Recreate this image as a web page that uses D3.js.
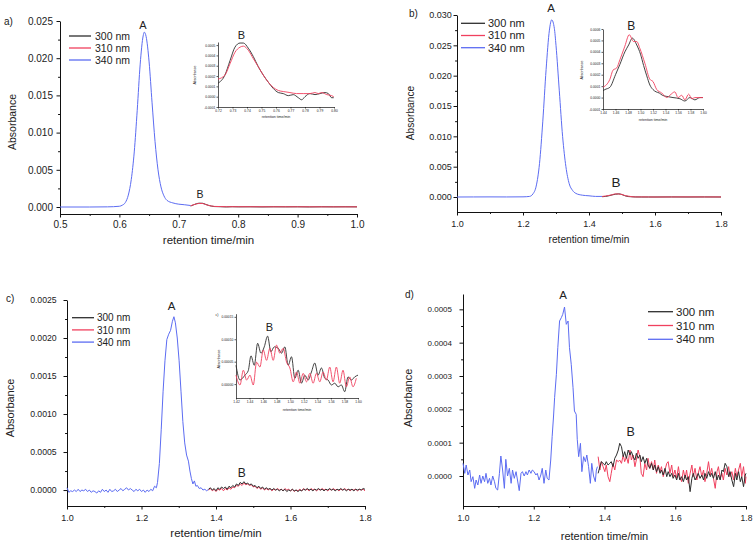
<!DOCTYPE html>
<html><head><meta charset="utf-8">
<script src="https://cdn.jsdelivr.net/npm/d3@7"></script>
<style>body{margin:0;background:#fff}svg{display:block}</style>
</head><body>
<svg id="chart" width="756" height="542"></svg>
<script>
// ---------- legend / series ----------
const seriesNames = ["300 nm", "310 nm", "340 nm"];
const seriesColors = ["#2e2e2e", "#f0405e", "#5c6cf2"];

// ---------- tick values ----------
const aXTicks = [0.5, 0.6, 0.7, 0.8, 0.9, 1.0];
const aXMinor = [0.55, 0.65, 0.75, 0.85, 0.95];
const aYTicks = [0.000, 0.005, 0.010, 0.015, 0.020, 0.025];
const aYMinor = [0.0025, 0.0075, 0.0125, 0.0175, 0.0225];
const bXTicks = [1.0, 1.2, 1.4, 1.6, 1.8];
const bXMinor = [1.1, 1.3, 1.5, 1.7];
const bYTicks = [0.000, 0.005, 0.010, 0.015, 0.020, 0.025, 0.030];
const bYMinor = [0.0025, 0.0075, 0.0125, 0.0175, 0.0225, 0.0275];
const cYTicks = [0.0000, 0.0005, 0.0010, 0.0015, 0.0020, 0.0025];
const cYMinor = [0.00025, 0.00075, 0.00125, 0.00175, 0.00225];
const dYTicks = [0.0000, 0.0001, 0.0002, 0.0003, 0.0004, 0.0005];
const dYMinor = [0.00005, 0.00015, 0.00025, 0.00035, 0.00045];
const aInsetXTicks = [0.72, 0.73, 0.74, 0.75, 0.76, 0.77, 0.78, 0.79, 0.80];
const aInsetYTicks = [-0.0001, 0.0000, 0.0001, 0.0002, 0.0003, 0.0004, 0.0005];
const bInsetXTicks = [1.44, 1.46, 1.48, 1.50, 1.52, 1.54, 1.56, 1.58, 1.60];
const bInsetYTicks = [-0.0001, 0.0000, 0.0001, 0.0002, 0.0003, 0.0004, 0.0005, 0.0006];
const cInsetXTicks = [1.42, 1.44, 1.46, 1.48, 1.50, 1.52, 1.54, 1.56, 1.58, 1.60];
const cInsetYTicks = [0.00000, 0.00005, 0.00010, 0.00015];

// ---------- panel a data ----------
const aBlue = [[0.50,0.00000],[0.55,0.00000],[0.58,0.00002],[0.600,0.00010],[0.605,0.00025],[0.610,0.00060],[0.615,0.0016],[0.620,0.0037],[0.625,0.0074],[0.630,0.0130],[0.635,0.0192],[0.640,0.0230],[0.642,0.0235],[0.645,0.0229],[0.650,0.0195],[0.655,0.0140],[0.660,0.0088],[0.665,0.0050],[0.670,0.0027],[0.675,0.0015],[0.680,0.0009],[0.690,0.00055],[0.700,0.00038],[0.710,0.00030],[0.720,0.00020]];
const aBlack = [[0.720,0.00013],[0.725,0.00030],[0.730,0.00045],[0.735,0.00051],[0.740,0.00050],[0.745,0.00036],[0.750,0.00022],[0.755,0.00012],[0.760,0.00006],[0.770,0.00004],[0.780,0.00001],[0.790,0.00004],[0.800,0.00002],[0.820,0.00003],[0.840,0.00001],[0.860,0.00003],[0.880,0.00002],[0.900,0.00003],[0.920,0.00001],[0.940,0.00003],[0.960,0.00002],[0.980,0.00003],[1.000,0.00002]];
const aRed = [[0.720,0.00017],[0.725,0.00030],[0.730,0.00042],[0.735,0.00048],[0.740,0.00047],[0.745,0.00034],[0.750,0.00022],[0.755,0.00013],[0.760,0.00008],[0.770,0.00006],[0.780,0.00004],[0.800,0.00004],[0.850,0.00003],[0.900,0.00003],[0.950,0.00002],[1.000,0.00002]];
const aInsetBlack = [[0.7200,0.00013],[0.7248,0.00021],[0.7283,0.00035],[0.7317,0.00048],[0.7352,0.00052],[0.7375,0.00052],[0.7409,0.00047],[0.7443,0.00039],[0.7478,0.00029],[0.7512,0.00021],[0.7547,0.00014],[0.7581,0.00008],[0.7616,0.00004],[0.7650,0.00003],[0.7685,0.00001],[0.7719,0.00002],[0.7754,-0.00001],[0.7777,-0.00003],[0.7800,0.00000],[0.7834,0.00003],[0.7869,0.00002],[0.7903,0.00003],[0.7938,0.00004],[0.7961,0.00003],[0.7984,-0.00001],[0.7998,-0.00001]];
const aInsetRed = [[0.7200,0.00017],[0.7248,0.00021],[0.7283,0.00032],[0.7317,0.00043],[0.7352,0.00048],[0.7375,0.00049],[0.7409,0.00045],[0.7443,0.00037],[0.7478,0.00029],[0.7512,0.00021],[0.7547,0.00014],[0.7581,0.00009],[0.7616,0.00006],[0.7650,0.00005],[0.7696,0.00004],[0.7742,0.00003],[0.7788,0.00003],[0.7834,0.00003],[0.7869,0.00004],[0.7892,0.00003],[0.7915,0.00004],[0.7950,0.00002],[0.7984,0.00001],[0.7998,0.00000]];

// ---------- panel b data ----------
const bBlue = [[1.00,0.00000],[1.05,0.00001],[1.10,0.00002],[1.15,0.00001],[1.20,0.00003],[1.22,0.00010],[1.23,0.00050],[1.24,0.0018],[1.25,0.0055],[1.26,0.0125],[1.27,0.0210],[1.28,0.0275],[1.287,0.0292],[1.295,0.0278],[1.30,0.0250],[1.31,0.0175],[1.32,0.0100],[1.33,0.0050],[1.34,0.0022],[1.35,0.0011],[1.36,0.0006],[1.38,0.0003],[1.40,0.0002],[1.42,0.0001],[1.44,0.0001]];
const bBlack = [[1.44,0.00005],[1.45,0.00010],[1.46,0.00020],[1.47,0.00035],[1.48,0.00046],[1.49,0.00052],[1.50,0.00040],[1.51,0.00019],[1.52,0.00007],[1.53,0.00004],[1.54,0.00001],[1.56,0.00000],[1.58,0.00000],[1.60,0.00000],[1.65,0.00001],[1.70,0.00000],[1.75,0.00001],[1.80,0.00000]];
const bRed = [[1.44,0.00009],[1.45,0.00016],[1.46,0.00026],[1.47,0.00036],[1.48,0.00052],[1.49,0.00049],[1.50,0.00042],[1.51,0.00022],[1.52,0.00014],[1.53,0.00005],[1.54,0.00001],[1.56,0.00002],[1.58,0.00001],[1.60,0.00000],[1.65,0.00001],[1.70,0.00002],[1.75,0.00001],[1.80,0.00001]];
const bInsetBlack = [[1.440,0.00006],[1.443,0.00007],[1.451,0.00009],[1.460,0.00020],[1.467,0.00029],[1.475,0.00040],[1.481,0.00046],[1.487,0.00052],[1.494,0.00046],[1.500,0.00038],[1.505,0.00028],[1.510,0.00019],[1.515,0.00011],[1.520,0.00007],[1.525,0.00005],[1.530,0.00004],[1.535,0.00002],[1.542,0.00001],[1.552,0.00000],[1.563,-0.00001],[1.571,-0.00003],[1.579,0.00000],[1.587,-0.00002],[1.595,0.00000],[1.600,0.00000]];
const bInsetRed = [[1.440,0.00009],[1.451,0.00016],[1.456,0.00024],[1.462,0.00026],[1.467,0.00033],[1.475,0.00045],[1.482,0.00055],[1.489,0.00049],[1.494,0.00049],[1.499,0.00043],[1.507,0.00030],[1.515,0.00016],[1.520,0.00014],[1.526,0.00007],[1.534,0.00004],[1.542,0.00000],[1.547,0.00002],[1.555,0.00005],[1.560,0.00000],[1.566,0.00002],[1.571,-0.00002],[1.577,0.00003],[1.582,-0.00001],[1.587,0.00000],[1.595,0.00000],[1.600,0.00000]];

// ---------- panel c data ----------
const cBlue = [[1.000,0.00003],[1.005,-0.00003],[1.010,-0.00001],[1.015,-0.00002],[1.020,0.00000],[1.025,-0.00002],[1.030,0.00001],[1.035,-0.00002],[1.040,0.00000],[1.045,-0.00001],[1.050,0.00001],[1.055,-0.00002],[1.060,0.00000],[1.065,-0.00003],[1.070,-0.00001],[1.075,-0.00002],[1.080,-0.00004],[1.085,-0.00001],[1.090,-0.00003],[1.095,0.00001],[1.100,-0.00002],[1.105,0.00000],[1.110,-0.00003],[1.115,0.00001],[1.120,-0.00002],[1.125,-0.00001],[1.130,0.00001],[1.135,-0.00002],[1.140,0.00000],[1.145,0.00002],[1.150,-0.00001],[1.155,0.00001],[1.160,0.00003],[1.165,0.00000],[1.170,0.00002],[1.175,0.00000],[1.180,-0.00002],[1.185,0.00001],[1.190,-0.00001],[1.195,0.00001],[1.200,-0.00002],[1.205,0.00000],[1.210,-0.00003],[1.215,0.00000],[1.220,-0.00002],[1.225,0.00001],[1.230,-0.00001],[1.235,0.00005],[1.240,0.00003],[1.243,0.00010],[1.248,0.00035],[1.253,0.00080],[1.258,0.00130],[1.263,0.00170],[1.268,0.00198],[1.273,0.00205],[1.278,0.00210],[1.283,0.00222],[1.287,0.00228],[1.291,0.00220],[1.296,0.00200],[1.301,0.00170],[1.306,0.00130],[1.311,0.00090],[1.316,0.00062],[1.321,0.00046],[1.326,0.00038],[1.330,0.00025],[1.334,0.00015],[1.338,0.00008],[1.342,0.00012],[1.346,0.00005],[1.350,0.00006],[1.355,0.00002],[1.360,0.00003],[1.365,0.00000],[1.370,0.00001],[1.375,-0.00001],[1.380,0.00001]];
const cTailTime = [1.380,1.385,1.390,1.395,1.400,1.405,1.410,1.415,1.420,1.425,1.430,1.435,1.440,1.445,1.450,1.455,1.460,1.465,1.470,1.475,1.480,1.485,1.490,1.495,1.500,1.505,1.510,1.515,1.520,1.525,1.530,1.535,1.540,1.545,1.550,1.555,1.560,1.565,1.570,1.575,1.580,1.585,1.590,1.595,1.600,1.605,1.610,1.615,1.620,1.625,1.630,1.635,1.640,1.645,1.650,1.655,1.660,1.665,1.670,1.675,1.680,1.685,1.690,1.695,1.700,1.705,1.710,1.715,1.720,1.725,1.730,1.735,1.740,1.745,1.750,1.755,1.760,1.765,1.770,1.775,1.780,1.785,1.790,1.795,1.800];
const cBlack = [0.00001,0.00003,0.00000,0.00002,-0.00001,0.00003,0.00001,0.00004,0.00002,0.00004,0.00001,0.00005,0.00003,0.00006,0.00004,0.00008,0.00006,0.00010,0.00008,0.00011,0.00008,0.00009,0.00007,0.00008,0.00005,0.00006,0.00003,0.00005,0.00002,0.00004,0.00001,0.00003,0.00001,0.00002,0.00000,0.00002,0.00000,0.00001,-0.00001,0.00001,-0.00001,0.00001,-0.00002,0.00000,-0.00001,0.00001,-0.00001,0.00000,-0.00002,0.00000,-0.00001,0.00001,0.00000,0.00002,0.00000,0.00001,-0.00001,0.00001,0.00000,0.00002,0.00000,0.00001,-0.00001,0.00001,0.00000,0.00002,0.00000,0.00001,-0.00001,0.00001,0.00000,0.00002,0.00000,0.00001,-0.00001,0.00001,0.00000,0.00001,-0.00001,0.00001,0.00000,0.00001,0.00000,0.00002,0.00001];
const cRed = [0.00000,0.00002,-0.00001,0.00001,-0.00002,0.00001,0.00000,0.00002,-0.00001,0.00002,0.00000,0.00003,0.00001,0.00004,0.00003,0.00006,0.00005,0.00008,0.00006,0.00009,0.00007,0.00008,0.00006,0.00007,0.00004,0.00005,0.00002,0.00004,0.00001,0.00003,0.00000,0.00002,0.00000,0.00002,-0.00001,0.00001,0.00000,0.00002,0.00000,0.00001,-0.00001,0.00002,0.00000,0.00001,-0.00001,0.00001,-0.00002,0.00000,-0.00001,0.00001,-0.00001,0.00002,0.00000,0.00001,-0.00001,0.00002,0.00000,0.00001,-0.00001,0.00001,0.00000,0.00002,0.00000,0.00001,-0.00001,0.00001,0.00000,0.00002,0.00000,0.00001,-0.00001,0.00001,0.00000,0.00002,0.00000,0.00001,-0.00001,0.00001,0.00000,0.00001,-0.00001,0.00001,0.00000,0.00001,-0.00001];
const cInsetBlack = [[1.4200,0.000042],[1.4259,0.000009],[1.4332,0.000020],[1.4381,0.000030],[1.4421,0.000063],[1.4470,0.000042],[1.4519,0.000091],[1.4568,0.000069],[1.4617,0.000083],[1.4666,0.000107],[1.4715,0.000072],[1.4764,0.000083],[1.4823,0.000080],[1.4872,0.000069],[1.4921,0.000083],[1.4970,0.000042],[1.5019,0.000061],[1.5068,0.000013],[1.5117,0.000031],[1.5166,0.000002],[1.5215,0.000020],[1.5264,0.000009],[1.5313,0.000027],[1.5362,0.000047],[1.5411,0.000020],[1.5461,0.000036],[1.5510,0.000013],[1.5559,0.000009],[1.5608,-0.000002],[1.5657,0.000002],[1.5706,-0.000006],[1.5755,-0.000002],[1.5804,-0.000017],[1.5853,0.000016],[1.5902,0.000009],[1.5951,0.000016],[1.6000,0.000020]];
const cInsetRed = [[1.4200,0.000020],[1.4259,-0.000002],[1.4308,0.000031],[1.4357,0.000009],[1.4406,0.000020],[1.4455,-0.000002],[1.4504,0.000049],[1.4553,0.000038],[1.4602,0.000076],[1.4651,0.000053],[1.4700,0.000080],[1.4749,0.000053],[1.4798,0.000087],[1.4847,0.000069],[1.4896,0.000080],[1.4946,0.000049],[1.4995,0.000036],[1.5044,0.000005],[1.5093,0.000027],[1.5142,0.000002],[1.5191,0.000024],[1.5240,0.000005],[1.5289,0.000024],[1.5338,0.000002],[1.5387,0.000024],[1.5436,0.000005],[1.5485,0.000027],[1.5534,0.000009],[1.5583,0.000038],[1.5632,0.000005],[1.5681,0.000038],[1.5730,0.000002],[1.5779,0.000031],[1.5828,-0.000006],[1.5877,0.000016],[1.5926,-0.000006],[1.5975,0.000013]];

// ---------- panel d data ----------
const dBlue = [[1.000,0.000038],[1.005,0.000008],[1.009,0.000033],[1.014,0.000003],[1.019,0.000018],[1.023,-0.000017],[1.028,-0.000002],[1.033,-0.000037],[1.037,-0.000012],[1.042,-0.000027],[1.047,0.000003],[1.051,-0.000022],[1.056,0.000000],[1.061,-0.000017],[1.065,0.000008],[1.070,-0.000022],[1.075,-0.000007],[1.079,-0.000027],[1.084,0.000000],[1.089,-0.000017],[1.093,-0.000037],[1.098,-0.000042],[1.103,0.000008],[1.107,0.000060],[1.112,0.000018],[1.117,-0.000037],[1.121,0.000050],[1.126,0.000000],[1.131,0.000023],[1.136,-0.000022],[1.140,0.000018],[1.145,-0.000007],[1.150,0.000013],[1.154,-0.000012],[1.159,-0.000044],[1.164,0.000008],[1.168,0.000013],[1.173,0.000000],[1.178,0.000013],[1.182,0.000003],[1.187,0.000018],[1.192,0.000008],[1.196,0.000018],[1.201,0.000013],[1.206,0.000003],[1.210,0.000008],[1.215,-0.000012],[1.220,0.000003],[1.224,0.000023],[1.229,-0.000022],[1.234,0.000018],[1.238,-0.000007],[1.243,-0.000012],[1.248,0.000048],[1.252,0.000118],[1.256,0.000180],[1.259,0.000235],[1.264,0.000305],[1.268,0.000385],[1.273,0.000465],[1.278,0.000475],[1.282,0.000485],[1.287,0.000507],[1.292,0.000455],[1.297,0.000465],[1.301,0.000385],[1.306,0.000335],[1.311,0.000265],[1.315,0.000195],[1.320,0.000185],[1.323,0.000110],[1.327,0.000058],[1.332,0.000098],[1.336,0.000013],[1.341,0.000058],[1.346,0.000043],[1.350,0.000063],[1.355,0.000028],[1.360,-0.000022],[1.364,0.000038],[1.369,0.000000],[1.374,-0.000017],[1.377,0.000018],[1.380,0.000028]];
const dBlack = [[1.382,0.000008],[1.387,0.000028],[1.391,0.000043],[1.396,0.000038],[1.401,0.000033],[1.405,0.000043],[1.410,0.000033],[1.415,0.000038],[1.419,0.000043],[1.424,0.000028],[1.429,0.000053],[1.434,0.000063],[1.439,0.000078],[1.443,0.000098],[1.448,0.000088],[1.453,0.000058],[1.457,0.000073],[1.462,0.000053],[1.467,0.000078],[1.472,0.000063],[1.476,0.000073],[1.481,0.000058],[1.486,0.000048],[1.490,0.000068],[1.495,0.000053],[1.500,0.000063],[1.504,0.000043],[1.509,0.000058],[1.514,0.000038],[1.519,0.000053],[1.523,0.000033],[1.528,0.000023],[1.533,0.000038],[1.538,0.000018],[1.542,0.000033],[1.547,0.000013],[1.552,0.000028],[1.557,0.000008],[1.561,0.000018],[1.566,0.000003],[1.571,0.000023],[1.576,-0.000002],[1.580,0.000013],[1.585,-0.000002],[1.590,0.000008],[1.594,-0.000007],[1.599,0.000003],[1.604,-0.000012],[1.609,0.000008],[1.613,-0.000012],[1.618,-0.000002],[1.623,-0.000017],[1.628,0.000003],[1.632,-0.000012],[1.637,-0.000002],[1.642,-0.000047],[1.647,-0.000007],[1.651,0.000008],[1.656,-0.000012],[1.661,-0.000002],[1.665,0.000008],[1.670,-0.000007],[1.675,0.000003],[1.680,-0.000012],[1.684,0.000008],[1.689,-0.000007],[1.694,0.000013],[1.699,-0.000002],[1.703,0.000008],[1.708,-0.000007],[1.713,0.000013],[1.718,-0.000012],[1.722,0.000003],[1.727,-0.000012],[1.732,0.000018],[1.736,0.000013],[1.741,0.000038],[1.746,0.000028],[1.751,-0.000002],[1.755,0.000013],[1.760,-0.000012],[1.765,-0.000032],[1.770,0.000008],[1.774,-0.000012],[1.779,0.000013],[1.784,-0.000017],[1.788,-0.000002],[1.793,-0.000032],[1.798,0.000003],[1.800,0.000008]];
const dRed = [[1.382,0.000058],[1.387,0.000018],[1.391,0.000043],[1.396,0.000028],[1.401,0.000013],[1.405,0.000033],[1.410,-0.000002],[1.415,-0.000017],[1.419,0.000008],[1.424,0.000038],[1.429,0.000018],[1.434,0.000048],[1.439,0.000043],[1.443,0.000048],[1.448,0.000038],[1.453,0.000063],[1.457,0.000043],[1.462,0.000058],[1.467,0.000038],[1.472,0.000078],[1.476,0.000048],[1.481,0.000063],[1.486,0.000028],[1.490,0.000048],[1.495,0.000078],[1.500,0.000058],[1.504,0.000008],[1.509,-0.000002],[1.514,0.000038],[1.519,0.000018],[1.523,0.000053],[1.528,0.000023],[1.533,0.000043],[1.538,0.000018],[1.542,0.000048],[1.547,0.000008],[1.552,0.000033],[1.557,0.000013],[1.561,0.000028],[1.566,-0.000002],[1.571,0.000018],[1.576,0.000038],[1.580,0.000043],[1.585,0.000008],[1.590,0.000033],[1.594,-0.000002],[1.599,0.000018],[1.604,-0.000007],[1.609,0.000028],[1.613,-0.000002],[1.618,-0.000017],[1.623,0.000018],[1.628,-0.000007],[1.632,0.000018],[1.637,-0.000022],[1.642,0.000008],[1.647,0.000033],[1.651,-0.000002],[1.656,0.000023],[1.661,-0.000012],[1.665,0.000008],[1.670,0.000028],[1.675,-0.000002],[1.680,0.000018],[1.684,-0.000017],[1.689,0.000008],[1.694,0.000043],[1.699,0.000003],[1.703,0.000023],[1.708,-0.000007],[1.713,-0.000037],[1.718,0.000013],[1.722,0.000028],[1.727,-0.000007],[1.732,0.000008],[1.736,-0.000012],[1.741,0.000023],[1.746,0.000003],[1.751,0.000028],[1.755,-0.000002],[1.760,0.000013],[1.765,-0.000012],[1.770,0.000023],[1.774,-0.000002],[1.779,0.000018],[1.784,0.000038],[1.788,-0.000002],[1.793,0.000028],[1.798,-0.000022],[1.800,-0.000002]];

// ---------- drawing ----------
const FONT = "'Liberation Sans', Arial, Helvetica, sans-serif";
const TXT = "#222";
const svg = d3.select("#chart");
const fmt = p => d => d3.format("." + p + "f")(d).replace("\u2212", "-");

function drawPanel(cfg) {
  const x = d3.scaleLinear().domain(cfg.xDomain).range(cfg.xRange);
  const y = d3.scaleLinear().domain(cfg.yDomain).range(cfg.yRange);
  const g = svg.append("g");
  const axY = cfg.yRange[0], axX = cfg.xRange[0];

  function styleAxis(sel, fs) {
    sel.attr("font-family", FONT).attr("font-size", fs);
    sel.selectAll("path.domain").attr("stroke", "#111").attr("stroke-width", cfg.sw);
    sel.selectAll(".tick line").attr("stroke", "#111").attr("stroke-width", cfg.sw);
    sel.selectAll(".tick text").attr("fill", TXT);
  }
  const gx = g.append("g").attr("transform", `translate(0,${axY})`)
    .call(d3.axisBottom(x).tickValues(cfg.xTicks).tickFormat(cfg.xFmt)
      .tickSize(cfg.tick).tickSizeOuter(0).tickPadding(cfg.xPad));
  styleAxis(gx, cfg.xFs);
  const gy = g.append("g").attr("transform", `translate(${axX},0)`)
    .call(d3.axisLeft(y).tickValues(cfg.yTicks).tickFormat(cfg.yFmt)
      .tickSize(cfg.tick).tickSizeOuter(0).tickPadding(cfg.yPad));
  styleAxis(gy, cfg.yFs);
  if (cfg.xMinor) {
    const m = g.append("g").attr("transform", `translate(0,${axY})`)
      .call(d3.axisBottom(x).tickValues(cfg.xMinor).tickFormat("").tickSize(cfg.tick * 0.55).tickSizeOuter(0));
    m.select("path.domain").remove(); styleAxis(m, 1);
  }
  if (cfg.yMinor) {
    const m = g.append("g").attr("transform", `translate(${axX},0)`)
      .call(d3.axisLeft(y).tickValues(cfg.yMinor).tickFormat("").tickSize(cfg.tick * 0.55).tickSizeOuter(0));
    m.select("path.domain").remove(); styleAxis(m, 1);
  }
  // traces
  cfg.traces.forEach(t => {
    const line = d3.line().x(d => x(d[0])).y(d => y(d[1])).curve(t.curve || d3.curveLinear);
    g.append("path").datum(t.data).attr("d", line).attr("fill", "none")
      .attr("stroke", seriesColors[t.s]).attr("stroke-width", cfg.lw).attr("stroke-linejoin", "round");
  });
  // axis titles
  const xt = (cfg.xRange[0] + cfg.xRange[1]) / 2 + (cfg.xTitleDx || 0);
  g.append("text").attr("x", xt).attr("y", cfg.xTitleY).attr("text-anchor", "middle")
    .attr("font-family", FONT).attr("font-size", cfg.titleFs).attr("fill", TXT).text("retention time/min");
  g.append("text").attr("transform", `translate(${cfg.yTitleX},${cfg.yTitleY}) rotate(-90)`)
    .attr("text-anchor", "middle").attr("dy", "0.35em")
    .attr("font-family", FONT).attr("font-size", cfg.yTitleFs || cfg.titleFs).attr("fill", TXT).text("Absorbance");
  // annotations
  (cfg.labels || []).forEach(l => {
    g.append("text").attr("x", l.x).attr("y", l.y).attr("text-anchor", l.anchor || "middle")
      .attr("font-family", FONT).attr("font-size", l.fs).attr("fill", TXT).text(l.t);
  });
  // legend
  if (cfg.legend) {
    const L = cfg.legend;
    seriesNames.forEach((n, i) => {
      const yy = L.y + i * L.dy;
      g.append("line").attr("x1", L.x1).attr("x2", L.x2).attr("y1", yy).attr("y2", yy)
        .attr("stroke", seriesColors[i]).attr("stroke-width", 1.3);
      g.append("text").attr("x", L.tx).attr("y", yy).attr("dy", "0.36em")
        .attr("font-family", FONT).attr("font-size", L.fs).attr("fill", TXT).text(n);
    });
  }
}

const mono = d3.curveMonotoneX;

// Panel a
drawPanel({
  xDomain: [0.5, 1.0], xRange: [60, 357], yDomain: [-0.00094, 0.025], yRange: [214, 21],
  xTicks: aXTicks, xMinor: aXMinor, yTicks: aYTicks, yMinor: aYMinor,
  xFmt: fmt(1), yFmt: fmt(3), tick: 3.5, xPad: 3, yPad: 3.5, xFs: 10, yFs: 10, sw: 1, lw: 1,
  traces: [{data: aBlue, s: 2, curve: mono}, {data: aBlack, s: 0, curve: mono}, {data: aRed, s: 1, curve: mono}],
  xTitleY: 244, titleFs: 11.5, yTitleX: 12, yTitleY: 122, yTitleFs: 10.5,
  labels: [{t: "a)", x: 4, y: 24.5, fs: 10, anchor: "start"}, {t: "A", x: 143, y: 29, fs: 11}, {t: "B", x: 200, y: 198, fs: 10.5}],
  legend: {x1: 69, x2: 91, y: 36, dy: 12, tx: 95, fs: 10.5}
});
drawPanel({
  xDomain: [0.72, 0.80], xRange: [218, 334], yDomain: [-0.0001, 0.00053], yRange: [107, 42],
  xTicks: aInsetXTicks, yTicks: aInsetYTicks, xFmt: fmt(2), yFmt: fmt(4),
  tick: 1.5, xPad: 1, yPad: 1.2, xFs: 3.3, yFs: 3.3, sw: 0.7, lw: 0.9,
  traces: [{data: aInsetBlack, s: 0, curve: mono}, {data: aInsetRed, s: 1, curve: mono}],
  xTitleY: 117.5, titleFs: 3.6, yTitleX: 195, yTitleY: 75,
  labels: [{t: "B", x: 241.5, y: 38.5, fs: 11}]
});

// Panel b
drawPanel({
  xDomain: [1.0, 1.8], xRange: [457, 721], yDomain: [-0.00247, 0.030], yRange: [212, 15],
  xTicks: bXTicks, xMinor: bXMinor, yTicks: bYTicks, yMinor: bYMinor,
  xFmt: fmt(1), yFmt: fmt(3), tick: 3.5, xPad: 5.5, yPad: 1.8, xFs: 9, yFs: 9, sw: 1, lw: 1,
  traces: [{data: bBlue, s: 2, curve: mono}, {data: bBlack, s: 0, curve: mono}, {data: bRed, s: 1, curve: mono}],
  xTitleY: 243, titleFs: 10.2, yTitleX: 410, yTitleY: 113, yTitleFs: 10.2,
  labels: [{t: "b)", x: 409, y: 16.5, fs: 10, anchor: "start"}, {t: "A", x: 551, y: 11.5, fs: 11.5}, {t: "B", x: 616, y: 187, fs: 13.5}],
  legend: {x1: 461, x2: 485, y: 23.3, dy: 12.2, tx: 488, fs: 11}
});
drawPanel({
  xDomain: [1.44, 1.60], xRange: [603, 703], yDomain: [-0.0001, 0.0006], yRange: [109, 29],
  xTicks: bInsetXTicks, yTicks: bInsetYTicks, xFmt: fmt(2), yFmt: fmt(4),
  tick: 1.5, xPad: 1, yPad: 1.2, xFs: 3.3, yFs: 3.3, sw: 0.7, lw: 0.9,
  traces: [{data: bInsetBlack, s: 0, curve: mono}, {data: bInsetRed, s: 1, curve: mono}],
  xTitleY: 121, titleFs: 3.6, yTitleX: 582, yTitleY: 70,
  labels: [{t: "B", x: 631.3, y: 30, fs: 12}]
});

// Panel c
drawPanel({
  xDomain: [1.0, 1.8], xRange: [67, 365], yDomain: [-0.00021, 0.0025], yRange: [506, 300],
  xTicks: bXTicks, xMinor: bXMinor, yTicks: cYTicks, yMinor: cYMinor,
  xFmt: fmt(1), yFmt: fmt(4), tick: 3.5, xPad: 5, yPad: 6.8, xFs: 9, yFs: 8.7, sw: 1, lw: 1,
  traces: [{data: cBlue, s: 2}, {data: d3.zip(cTailTime, cRed), s: 1}, {data: d3.zip(cTailTime, cBlack), s: 0}],
  xTitleY: 536.7, titleFs: 11.5, yTitleX: 10, yTitleY: 408, yTitleFs: 11,
  labels: [{t: "c)", x: 6, y: 301.5, fs: 10, anchor: "start"}, {t: "A", x: 171.7, y: 310, fs: 11.5}, {t: "B", x: 241.7, y: 477, fs: 12}],
  legend: {x1: 72, x2: 94, y: 317.7, dy: 12.2, tx: 97, fs: 10}
});
drawPanel({
  xDomain: [1.42, 1.60], xRange: [236, 358], yDomain: [-0.000031, 0.000157], yRange: [398, 313.7],
  xTicks: cInsetXTicks, yTicks: cInsetYTicks, xFmt: fmt(2), yFmt: fmt(5),
  tick: 1.5, xPad: 1, yPad: 1.2, xFs: 3.3, yFs: 3.3, sw: 0.7, lw: 0.9,
  traces: [{data: cInsetBlack, s: 0, curve: mono}, {data: cInsetRed, s: 1, curve: mono}],
  xTitleY: 411, titleFs: 3.6, yTitleX: 218.5, yTitleY: 359,
  labels: [{t: "B", x: 269.3, y: 331, fs: 11}, {t: "c)", x: 215.5, y: 315.5, fs: 3.5, anchor: "start"}]
});

// Panel d
drawPanel({
  xDomain: [1.0, 1.8], xRange: [463, 746], yDomain: [-0.00009, 0.000546], yRange: [506, 294],
  xTicks: bXTicks, xMinor: bXMinor, yTicks: dYTicks, yMinor: dYMinor,
  xFmt: fmt(1), yFmt: fmt(4), tick: 3.5, xPad: 5.2, yPad: 7.5, xFs: 8.5, yFs: 8, sw: 1, lw: 1,
  traces: [{data: dBlue, s: 2}, {data: dRed, s: 1}, {data: dBlack, s: 0}],
  xTitleY: 540, titleFs: 11, yTitleX: 408, yTitleY: 398, yTitleFs: 11,
  labels: [{t: "d)", x: 405, y: 298, fs: 10, anchor: "start"}, {t: "A", x: 563, y: 299, fs: 11.5}, {t: "B", x: 630.7, y: 435.5, fs: 12.5}],
  legend: {x1: 648, x2: 673, y: 311.7, dy: 13.8, tx: 676, fs: 11.5}
});
</script>
</body></html>
